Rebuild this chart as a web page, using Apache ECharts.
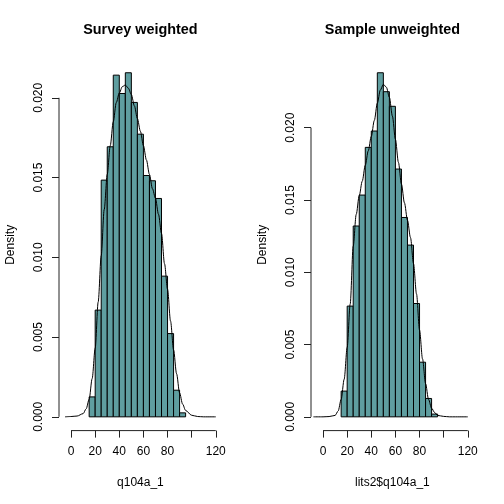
<!DOCTYPE html>
<html>
<head>
<meta charset="utf-8">
<script src="https://cdn.jsdelivr.net/npm/echarts@6/dist/echarts.min.js"></script>
<style>html,body{margin:0;padding:0;background:#fff}#c{width:504px;height:504px}</style>
</head>
<body>
<div id="c"></div>
<script>
// ---- data ----
var titles = ['Survey weighted', 'Sample unweighted'];
var xNames = ['q104a_1', 'lits2$q104a_1'];
var yName = 'Density';
var binEdges = [15, 20, 25, 30, 35, 40, 45, 50, 55, 60, 65, 70, 75, 80, 85, 90, 95];
var weightedDensity = [0.00125, 0.00669, 0.01484, 0.01693, 0.02142, 0.02027, 0.02157, 0.01971, 0.01772, 0.01513, 0.0148, 0.01369, 0.00882, 0.00522, 0.00167, 0.00025];
var unweightedDensity = [0.00178, 0.00766, 0.0132, 0.01534, 0.01864, 0.01977, 0.0238, 0.02249, 0.02148, 0.01714, 0.01379, 0.01188, 0.00784, 0.00378, 0.00127, 0.00019];
var weightedCurveX = [-5, 0, 5, 10, 12.5, 15, 17.5, 20, 22.5, 25, 27.5, 30, 32.5, 35, 37.5, 40, 42.5, 45, 47.5, 50, 52.5, 55, 57.5, 60, 62.5, 65, 67.5, 70, 72.5, 75, 77.5, 80, 82.5, 85, 87.5, 90, 92.5, 95, 100, 105, 110, 120];
var weightedCurveY = [0, 0.00002, 0.00005, 0.0002, 0.0005, 0.0011, 0.0024, 0.0043, 0.0072, 0.0101, 0.0130, 0.0152, 0.0170, 0.0185, 0.0197, 0.0203, 0.0207, 0.0208, 0.0206, 0.0202, 0.0195, 0.0187, 0.0179, 0.0170, 0.0161, 0.0152, 0.0143, 0.0137, 0.0127, 0.0115, 0.0096, 0.0080, 0.0060, 0.0042, 0.0027, 0.0015, 0.0008, 0.0004, 0.0001, 0.00002, 0, 0];
var unweightedCurveX = [-8, 0, 5, 10, 12.5, 15, 17.5, 20, 22.5, 25, 27.5, 30, 32.5, 35, 37.5, 40, 42.5, 45, 47.5, 50, 52.5, 55, 57.5, 60, 62.5, 65, 67.5, 70, 72.5, 75, 77.5, 80, 82.5, 85, 87.5, 90, 92.5, 95, 100, 105, 110, 120];
var unweightedCurveY = [0, 0, 0.00002, 0.0001, 0.0004, 0.0012, 0.0026, 0.0048, 0.0078, 0.0118, 0.0140, 0.0153, 0.0163, 0.0174, 0.0184, 0.0194, 0.0205, 0.0217, 0.0226, 0.0230, 0.0228, 0.0221, 0.0208, 0.0192, 0.0176, 0.0161, 0.0148, 0.0136, 0.0124, 0.0106, 0.0085, 0.0060, 0.0040, 0.0023, 0.0012, 0.0006, 0.0003, 0.0001, 0.00003, 0, 0, 0];
var xTicks = [0, 20, 40, 60, 80, 100, 120];
var xTickLabels = [0, 20, 40, 60, 80, 120];
var yTicks = [0, 0.005, 0.010, 0.015, 0.020];
var xLimits = [-10, 125];

// ---- chart ----
var chart = echarts.init(document.getElementById('c'), null, {renderer: 'canvas'});
var FONT = 'Liberation Sans, Arial, Helvetica, sans-serif';
var grids = [
  {left: 59, top: 59, width: 162.8, height: 371.6},
  {left: 311, top: 59, width: 162.8, height: 371.6}
];
var barSets = [weightedDensity, unweightedDensity];
var curves = [[weightedCurveX, weightedCurveY], [unweightedCurveX, unweightedCurveY]];

var xAxes = [], yAxes = [], series = [], titleOpts = [];
for (var i = 0; i < 2; i++) {
  var maxD = Math.max.apply(null, barSets[i]);
  var yMin = -0.04 * maxD, yMax = maxD * 1.04;
  xAxes.push({
    gridIndex: i, type: 'value', min: xLimits[0], max: xLimits[1],
    splitLine: {show: false}, axisLine: {show: false, onZero: false},
    axisTick: {show: true, customValues: xTicks, length: 7, lineStyle: {color: '#222', width: 1}},
    axisLabel: {show: true, customValues: xTickLabels, margin: 15, color: '#000', fontSize: 12, fontFamily: FONT},
    name: xNames[i], nameLocation: 'middle', nameGap: 46,
    nameTextStyle: {color: '#000', fontSize: 12, fontFamily: FONT}
  });
  yAxes.push({
    gridIndex: i, type: 'value', min: yMin, max: yMax,
    splitLine: {show: false}, axisLine: {show: false, onZero: false},
    axisTick: {show: true, customValues: yTicks, length: 7, lineStyle: {color: '#222', width: 1}},
    axisLabel: {show: true, customValues: yTicks, rotate: 90, margin: 14, color: '#000', fontSize: 12, fontFamily: FONT,
      formatter: function (v) { return v.toFixed(3); }},
    name: yName, nameLocation: 'middle', nameGap: 42, nameRotate: 90,
    nameTextStyle: {color: '#000', fontSize: 12, fontFamily: FONT}
  });
  // histogram bars
  var barData = barSets[i].map(function (d, k) { return [binEdges[k], binEdges[k + 1], d]; });
  series.push({
    type: 'custom', xAxisIndex: i, yAxisIndex: i, silent: true,
    data: barData,
    encode: {x: [0, 1], y: 2},
    renderItem: function (params, api) {
      var p0 = api.coord([api.value(0), api.value(2)]);
      var p1 = api.coord([api.value(1), 0]);
      return {
        type: 'rect',
        shape: {x: p0[0], y: p0[1], width: p1[0] - p0[0], height: p1[1] - p0[1]},
        style: {fill: '#5F9EA0', stroke: '#000', lineWidth: 1}
      };
    }
  });
  // density curve
  var cx = curves[i][0], cy = curves[i][1];
  series.push({
    type: 'line', xAxisIndex: i, yAxisIndex: i, silent: true,
    data: cx.map(function (x, k) { return [x, cy[k]]; }),
    showSymbol: false, symbol: 'none', smooth: 0.3, smoothMonotone: 'x',
    lineStyle: {color: '#000', width: 1}, z: 5
  });
  // axis lines spanning first..last tick (R style)
  series.push({
    type: 'line', xAxisIndex: i, yAxisIndex: i, silent: true, clip: false,
    data: [[xTicks[0], yMin], [xTicks[xTicks.length - 1], yMin]],
    showSymbol: false, symbol: 'none', lineStyle: {color: '#222', width: 1}, z: 6
  });
  series.push({
    type: 'line', xAxisIndex: i, yAxisIndex: i, silent: true, clip: false,
    data: [[xLimits[0], yTicks[0]], [xLimits[0], yTicks[yTicks.length - 1]]],
    showSymbol: false, symbol: 'none', lineStyle: {color: '#222', width: 1}, z: 6
  });
  titleOpts.push({
    text: titles[i], left: grids[i].left + grids[i].width / 2, top: 23, textAlign: 'center', padding: 0,
    textStyle: {fontSize: 14.4, fontWeight: 'bold', color: '#000', fontFamily: FONT}
  });
}

chart.setOption({
  animation: false,
  backgroundColor: '#fff',
  title: titleOpts,
  grid: grids,
  xAxis: xAxes,
  yAxis: yAxes,
  series: series
});
</script>
</body>
</html>
